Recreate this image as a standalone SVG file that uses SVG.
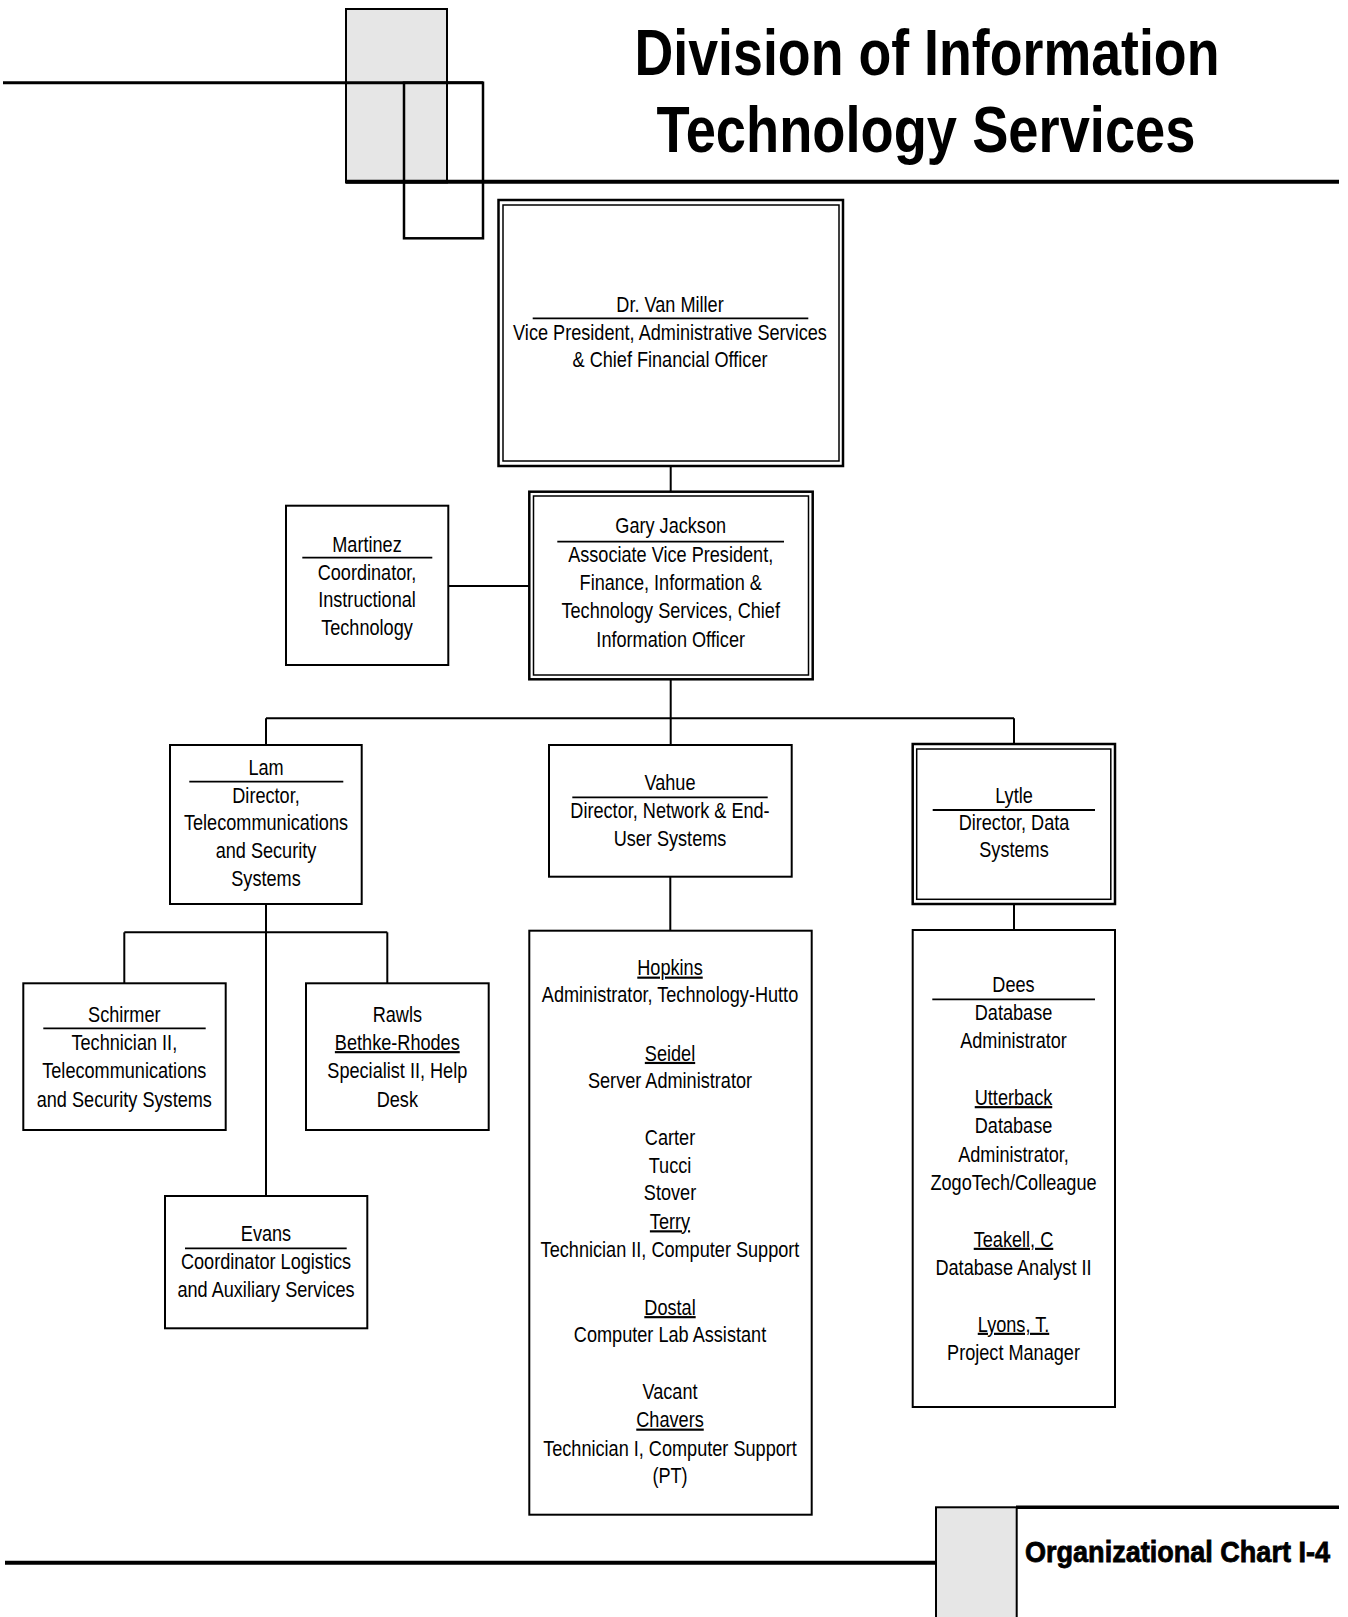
<svg xmlns="http://www.w3.org/2000/svg" width="1348" height="1617" viewBox="0 0 1348 1617">
<style>
.box{fill:#fff;stroke:#000;stroke-width:2}
.outer{fill:#fff;stroke:#000;stroke-width:2.5}
.inner{fill:none;stroke:#000;stroke-width:1.5}
.gray{fill:#e6e6e6;stroke:#000;stroke-width:2}
.rule{stroke:#000;stroke-width:1.8}
.conn{stroke:#000;stroke-width:2;fill:none}
.t{font-family:'Liberation Sans',Arial,sans-serif;font-size:21.7px;text-anchor:middle;fill:#000}
.u{text-decoration:underline}
.title{font-family:'Liberation Sans',Arial,sans-serif;font-weight:bold;font-size:65px;text-anchor:middle;fill:#000}
.foot{font-family:'Liberation Sans',Arial,sans-serif;font-weight:bold;font-size:30px;fill:#000;stroke:#000;stroke-width:0.8}
</style>
<rect width="1348" height="1617" fill="#fff"/>
<g id="header">
<rect class="gray" x="346" y="9" width="101" height="173.5"/>
<line x1="3" y1="82.7" x2="483" y2="82.7" stroke="#000" stroke-width="3"/>
<rect x="404" y="82.7" width="79" height="155.6" fill="none" stroke="#000" stroke-width="2.5"/>
<line x1="346" y1="181.7" x2="1339" y2="181.7" stroke="#000" stroke-width="4"/>
<text class="title" x="927" y="75" textLength="585" lengthAdjust="spacingAndGlyphs">Division of Information</text>
<text class="title" x="926" y="151.5" textLength="539" lengthAdjust="spacingAndGlyphs">Technology Services</text>
</g>
<g id="footer">
<line x1="5" y1="1562.7" x2="936" y2="1562.7" stroke="#000" stroke-width="4"/>
<rect class="gray" x="936" y="1507.3" width="80.7" height="120"/>
<line x1="1016" y1="1507.3" x2="1339" y2="1507.3" stroke="#000" stroke-width="3.5"/>
<text class="foot" x="1025" y="1561.7" textLength="305" lengthAdjust="spacingAndGlyphs">Organizational Chart I-4</text>
</g>
<g id="connectors">
<line class="conn" x1="670.7" y1="466" x2="670.7" y2="491.7"/>
<line class="conn" x1="448" y1="586" x2="529.3" y2="586"/>
<line class="conn" x1="670.7" y1="679" x2="670.7" y2="745"/>
<line class="conn" x1="266" y1="718.3" x2="1014" y2="718.3"/>
<line class="conn" x1="266" y1="718.3" x2="266" y2="745"/>
<line class="conn" x1="1014" y1="718.3" x2="1014" y2="744"/>
<line class="conn" x1="266" y1="904" x2="266" y2="1196"/>
<line class="conn" x1="124.3" y1="932.3" x2="387.3" y2="932.3"/>
<line class="conn" x1="124.3" y1="932.3" x2="124.3" y2="983.3"/>
<line class="conn" x1="387.3" y1="932.3" x2="387.3" y2="983.3"/>
<line class="conn" x1="670.3" y1="877" x2="670.3" y2="930.7"/>
<line class="conn" x1="1014" y1="904" x2="1014" y2="930"/>
</g>
<g id="vanmiller">
<rect class="outer" x="498.5" y="200" width="344.5" height="266"/>
<rect class="inner" x="503" y="205" width="336" height="256"/>
<line class="rule" x1="532.7" y1="318.3" x2="808.3" y2="318.3"/>
<g transform="translate(670 0) scale(0.835 1)">
<text class="t" x="0" y="311.7">Dr. Van Miller</text>
<text class="t" x="0" y="340">Vice President, Administrative Services</text>
<text class="t" x="0" y="367">&amp; Chief Financial Officer</text>
</g>
</g>
<g id="jackson">
<rect class="outer" x="529.3" y="491.7" width="283.4" height="187.6"/>
<rect class="inner" x="533.5" y="496" width="275" height="179"/>
<line class="rule" x1="557.3" y1="541.7" x2="784" y2="541.7"/>
<g transform="translate(670.7 0) scale(0.835 1)">
<text class="t" x="0" y="533.3">Gary Jackson</text>
<text class="t" x="0" y="561.7">Associate Vice President,</text>
<text class="t" x="0" y="590">Finance, Information &amp;</text>
<text class="t" x="0" y="618.3">Technology Services, Chief</text>
<text class="t" x="0" y="646.7">Information Officer</text>
</g>
</g>
<g id="martinez">
<rect class="box" x="286" y="505.7" width="162.3" height="159.3"/>
<line class="rule" x1="302.3" y1="557.7" x2="432.3" y2="557.7"/>
<g transform="translate(367 0) scale(0.835 1)">
<text class="t" x="0" y="551.7">Martinez</text>
<text class="t" x="0" y="580">Coordinator,</text>
<text class="t" x="0" y="607.3">Instructional</text>
<text class="t" x="0" y="635">Technology</text>
</g>
</g>
<g id="lam">
<rect class="box" x="170" y="745" width="191.7" height="159"/>
<line class="rule" x1="189.3" y1="781.7" x2="343.3" y2="781.7"/>
<g transform="translate(266 0) scale(0.835 1)">
<text class="t" x="0" y="775">Lam</text>
<text class="t" x="0" y="803.3">Director,</text>
<text class="t" x="0" y="830.5">Telecommunications</text>
<text class="t" x="0" y="858.3">and Security</text>
<text class="t" x="0" y="886.5">Systems</text>
</g>
</g>
<g id="vahue">
<rect class="box" x="549" y="745" width="242.7" height="131.7"/>
<line class="rule" x1="572.3" y1="797.3" x2="767.7" y2="797.3"/>
<g transform="translate(670 0) scale(0.835 1)">
<text class="t" x="0" y="790">Vahue</text>
<text class="t" x="0" y="818.3">Director, Network &amp; End-</text>
<text class="t" x="0" y="846">User Systems</text>
</g>
</g>
<g id="lytle">
<rect class="outer" x="912.7" y="744" width="202.3" height="160"/>
<rect class="inner" x="916.7" y="749" width="194.1" height="150.3"/>
<line class="rule" x1="932.7" y1="810" x2="1095" y2="810"/>
<g transform="translate(1014 0) scale(0.835 1)">
<text class="t" x="0" y="803.3">Lytle</text>
<text class="t" x="0" y="830">Director, Data</text>
<text class="t" x="0" y="856.7">Systems</text>
</g>
</g>
<g id="schirmer">
<rect class="box" x="23.3" y="983.3" width="202.4" height="146.7"/>
<line class="rule" x1="43.3" y1="1028.3" x2="205.7" y2="1028.3"/>
<g transform="translate(124.3 0) scale(0.835 1)">
<text class="t" x="0" y="1021.7">Schirmer</text>
<text class="t" x="0" y="1050">Technician II,</text>
<text class="t" x="0" y="1078.3">Telecommunications</text>
<text class="t" x="0" y="1106.7">and Security Systems</text>
</g>
</g>
<g id="rawls">
<rect class="box" x="306" y="983.3" width="182.7" height="146.7"/>
<g transform="translate(397.3 0) scale(0.835 1)">
<text class="t" x="0" y="1021.7">Rawls</text>
<text class="t u" x="0" y="1050">Bethke-Rhodes</text>
<text class="t" x="0" y="1078.3">Specialist II, Help</text>
<text class="t" x="0" y="1106.7">Desk</text>
</g>
</g>
<g id="evans">
<rect class="box" x="165" y="1196" width="202.3" height="132.3"/>
<line class="rule" x1="185" y1="1248.3" x2="346.7" y2="1248.3"/>
<g transform="translate(266 0) scale(0.835 1)">
<text class="t" x="0" y="1240.7">Evans</text>
<text class="t" x="0" y="1269.3">Coordinator Logistics</text>
<text class="t" x="0" y="1297.3">and Auxiliary Services</text>
</g>
</g>
<g id="networkstaff">
<rect class="box" x="529.3" y="930.7" width="282.4" height="584"/>
<g transform="translate(670 0) scale(0.835 1)">
<text class="t u" x="0" y="975.5">Hopkins</text>
<text class="t" x="0" y="1002.5">Administrator, Technology-Hutto</text>
<text class="t u" x="0" y="1060.8">Seidel</text>
<text class="t" x="0" y="1087.8">Server Administrator</text>
<text class="t" x="0" y="1145">Carter</text>
<text class="t" x="0" y="1172.6">Tucci</text>
<text class="t" x="0" y="1200.5">Stover</text>
<text class="t u" x="0" y="1229.2">Terry</text>
<text class="t" x="0" y="1257.5">Technician II, Computer Support</text>
<text class="t u" x="0" y="1315">Dostal</text>
<text class="t" x="0" y="1341.7">Computer Lab Assistant</text>
<text class="t" x="0" y="1399.5">Vacant</text>
<text class="t u" x="0" y="1427.5">Chavers</text>
<text class="t" x="0" y="1455.8">Technician I, Computer Support</text>
<text class="t" x="0" y="1483.3">(PT)</text>
</g>
</g>
<g id="datastaff">
<rect class="box" x="912.7" y="930" width="202.3" height="477"/>
<line class="rule" x1="932.3" y1="999.3" x2="1095" y2="999.3"/>
<g transform="translate(1013.5 0) scale(0.835 1)">
<text class="t" x="0" y="991.7">Dees</text>
<text class="t" x="0" y="1020">Database</text>
<text class="t" x="0" y="1048.3">Administrator</text>
<text class="t u" x="0" y="1105">Utterback</text>
<text class="t" x="0" y="1133.3">Database</text>
<text class="t" x="0" y="1161.7">Administrator,</text>
<text class="t" x="0" y="1190">ZogoTech/Colleague</text>
<text class="t u" x="0" y="1246.7">Teakell, C</text>
<text class="t" x="0" y="1275">Database Analyst II</text>
<text class="t u" x="0" y="1331.7">Lyons, T.</text>
<text class="t" x="0" y="1360">Project Manager</text>
</g>
</g>
</svg>
